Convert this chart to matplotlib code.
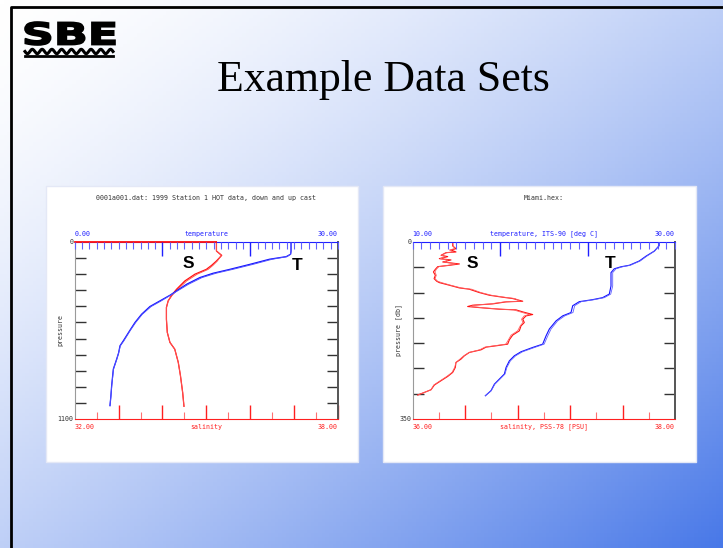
import numpy as np
import matplotlib
matplotlib.use("Agg")
import matplotlib.pyplot as plt
from matplotlib.patches import Rectangle, PathPatch
from matplotlib.textpath import TextPath
from matplotlib.font_manager import FontProperties
from matplotlib.transforms import Affine2D

# ---- data: HOT station 1 (0001a001.dat) ----
hot_p_t = [0, 56, 76, 91, 107, 139, 170, 194, 221, 263, 304, 331, 366, 401, 449,
           500, 548, 614, 645, 690, 728, 790, 893, 960, 1017]
hot_t_down = [24.65, 24.65, 24.6, 24.1, 22.2, 19.95, 17.67, 15.78, 14.26, 12.74, 11.6,
              10.85, 9.71, 8.57, 7.62, 6.87, 6.30, 5.54, 5.16, 5.0, 4.78, 4.40, 4.21, 4.12, 4.02]
hot_t_up = [24.65, 24.65, 24.6, 24.2, 22.5, 20.3, 18.0, 16.1, 14.5, 12.95, 11.7,
            10.9, 9.85, 8.7, 7.7, 6.95, 6.35, 5.6, 5.2, 5.0, 4.8, 4.42, 4.22, 4.12, 4.02]
hot_p_s = [0, 56, 83, 118, 145, 170, 200, 242, 294, 331, 366, 407, 480, 562, 624,
           666, 748, 831, 935, 1021]
hot_s_down = [35.23, 35.23, 35.35, 35.23, 35.12, 35.0, 34.74, 34.51, 34.32, 34.21, 34.13,
              34.09, 34.09, 34.11, 34.17, 34.28, 34.36, 34.41, 34.46, 34.49]
hot_s_up = [35.23, 35.23, 35.34, 35.25, 35.15, 35.04, 34.79, 34.55, 34.35, 34.22, 34.13,
            34.09, 34.09, 34.11, 34.17, 34.28, 34.36, 34.41, 34.46, 34.49]

# ---- data: Miami.hex ----
mia_p_t = [0, 7, 18, 28, 37.5, 46, 49, 53, 60.5, 87, 103, 110, 114, 118, 126, 139.5, 146,
           156, 172, 185.5, 202, 208.5, 217, 225, 235, 248, 261, 271, 281, 294, 304]
mia_t_down = [28.8, 28.8, 28.42, 27.79, 27.28, 26.52, 25.88, 25.37, 25.12, 25.12, 24.99,
              24.48, 23.72, 22.7, 22.2, 22.07, 21.44, 20.93, 20.42, 20.17, 19.91, 19.15,
              18.26, 17.75, 17.37, 17.12, 16.99, 16.61, 16.23, 15.97, 15.54]
mia_t_up = [28.8, 28.8, 28.45, 27.85, 27.35, 26.6, 26.0, 25.5, 25.25, 25.25, 25.1,
            24.62, 23.85, 22.85, 22.35, 22.22, 21.6, 21.05, 20.55, 20.3, 20.02, 19.3,
            18.38, 17.85, 17.45, 17.18, 17.04, 16.66, 16.27, 15.99, 15.54]
mia_p_s = [0, 7.9, 13.2, 15.8, 19.7, 21.1, 26.3, 28.9, 32.9, 35.5, 39.5, 43.4, 46.1, 48.7,
           53.9, 59.2, 65.8, 72.4, 77.6, 80.3, 85.5, 90.8, 93.4, 100.0, 105.3, 109.2,
           111.8, 117.1, 118.4, 122.4, 125.0, 127.6, 130.3, 132.9, 134.2, 138.2, 143.4,
           146.1, 152.6, 159.2, 165.8, 175.7, 184.2, 193.4, 202.0, 205.3, 207.9, 213.2,
           218.4, 225.0, 231.6, 238.2, 248.0, 257.9, 265.8, 274.3, 282.9, 292.1, 297.4, 302.6]
mia_s_down = [36.305, 36.305, 36.330, 36.292, 36.330, 36.254, 36.216, 36.267, 36.203,
              36.292, 36.229, 36.356, 36.280, 36.191, 36.173, 36.158, 36.173, 36.163,
              36.183, 36.203, 36.280, 36.356, 36.432, 36.508, 36.585, 36.686, 36.762,
              36.839, 36.712, 36.610, 36.457, 36.419, 36.534, 36.661, 36.788, 36.839,
              36.915, 36.864, 36.839, 36.851, 36.826, 36.813, 36.762, 36.737, 36.724,
              36.635, 36.559, 36.521, 36.432, 36.394, 36.368, 36.330, 36.325, 36.305,
              36.267, 36.216, 36.165, 36.140, 36.089, 36.038]
mia_s_up = [36.305, 36.31, 36.32, 36.28, 36.31, 36.26, 36.22, 36.25, 36.21, 36.27, 36.24,
            36.33, 36.27, 36.20, 36.18, 36.17, 36.18, 36.17, 36.19, 36.22, 36.29, 36.37,
            36.45, 36.52, 36.60, 36.70, 36.78, 36.82, 36.70, 36.59, 36.47, 36.44, 36.55,
            36.68, 36.77, 36.82, 36.89, 36.85, 36.83, 36.84, 36.82, 36.80, 36.75, 36.73,
            36.71, 36.62, 36.55, 36.51, 36.43, 36.39, 36.36, 36.33, 36.32, 36.30, 36.26,
            36.21, 36.16, 36.14, 36.09, 36.04]

W, H = 723, 548
fig = plt.figure(figsize=(W / 100, H / 100), dpi=100)

# background slide with gradient
bg = fig.add_axes([0, 0, 1, 1], zorder=-5)
bg.set_xlim(0, W)
bg.set_ylim(H, 0)
bg.axis("off")
xx, yy = np.meshgrid(np.linspace(0, 1, 200), np.linspace(0, 1, 150))
tt = ((xx + yy) / 2) ** 1.5
c0 = np.array([1.0, 1.0, 1.0])
c1 = np.array([72, 120, 232]) / 255
img = c0 + (c1 - c0) * tt[..., None]
bg.imshow(img, extent=[0, W, H, 0], aspect="auto", zorder=0)
bg.plot([10.5, 10.5, W], [H, 6.5, 6.5], color="black", lw=2, zorder=2)

# SBE logo
tp = TextPath((0, 0), "SBE", size=10, prop=FontProperties(family="DejaVu Sans", weight="bold"))
ext = tp.get_extents()
sx = 90 / ext.width
sy = 23 / ext.height
tr = Affine2D().translate(-ext.x0, -ext.y0).scale(sx, -sy).translate(25, 45)
bg.add_patch(PathPatch(tr.transform_path(tp), facecolor="black", edgecolor="black",
                       lw=1.2, zorder=3))
wx = np.linspace(25, 113, 200)
bg.plot(wx, 51.5 + 2.2 * np.sin((wx - 25) / 88 * 9 * 2 * np.pi), color="black", lw=2.2, zorder=3)
bg.plot([25, 113], [55.5, 55.5], color="black", lw=2, zorder=3)

bg.text(383, 80, "Example Data Sets", family="Liberation Serif", fontsize=31.5,
        ha="center", va="center", color="black", zorder=3)

# white panels
for x0, x1 in [(46, 358), (383, 696)]:
    bg.add_patch(Rectangle((x0, 186), x1 - x0, 276, facecolor="white",
                           edgecolor="#e4e8f6", lw=1, zorder=2))

mono = "DejaVu Sans Mono"
fs = 4.8


def make_plot(px0, px1, s_lim, t_lim, p_max, t_ticks, t_major, s_ticks, s_major, p_step,
              title, t_label, s_label, p_label):
    py0, py1 = 242, 419
    ax = fig.add_axes([px0 / W, 1 - py1 / H, (px1 - px0) / W, (py1 - py0) / H])
    ax.set_facecolor("none")
    ax.set_xlim(*s_lim)
    ax.set_ylim(p_max, 0)
    axt = ax.twiny()
    axt.set_xlim(*t_lim)
    axt.set_facecolor("none")

    ax.set_xticks(s_major)
    ax.set_xticks(s_ticks, minor=True)
    ax.set_yticks(np.arange(p_step, p_max, p_step))
    ax.tick_params(axis="x", which="major", direction="in", length=10, width=1,
                   color="#ff2020", bottom=True, top=False, labelbottom=False)
    ax.tick_params(axis="x", which="minor", direction="in", length=5, width=0.8,
                   color="#ff7070", bottom=True, top=False)
    ax.tick_params(axis="y", direction="in", length=8, width=1, color="#333333",
                   left=True, right=True, labelleft=False)
    axt.set_xticks(t_major)
    axt.set_xticks(t_ticks, minor=True)
    axt.tick_params(axis="x", which="major", direction="in", length=10, width=1,
                    color="#2020ff", top=True, labeltop=False)
    axt.tick_params(axis="x", which="minor", direction="in", length=5, width=0.8,
                    color="#6060ff", top=True)

    for sp in ["left", "right", "top", "bottom"]:
        axt.spines[sp].set_visible(False)
    ax.spines["top"].set_color("#2020ff")
    ax.spines["bottom"].set_color("#ff2020")
    ax.spines["left"].set_color("#9a9a9a")
    ax.spines["right"].set_color("#555555")
    ax.spines["right"].set_linewidth(1.4)

    cx = (px0 + px1) / 2
    bg.text(cx, 198, title, family=mono, fontsize=fs, ha="center", va="center", color="#333333")
    bg.text(px0, 234, f"{t_lim[0]:.2f}", family=mono, fontsize=fs, ha="left", va="center", color="#2020ff")
    bg.text(cx, 234, t_label, family=mono, fontsize=fs, ha="center", va="center", color="#2020ff")
    bg.text(px1, 234, f"{t_lim[1]:.2f}", family=mono, fontsize=fs, ha="right", va="center", color="#2020ff")
    bg.text(px0, 427, f"{s_lim[0]:.2f}", family=mono, fontsize=fs, ha="left", va="center", color="#ff2020")
    bg.text(cx, 427, s_label, family=mono, fontsize=fs, ha="center", va="center", color="#ff2020")
    bg.text(px1, 427, f"{s_lim[1]:.2f}", family=mono, fontsize=fs, ha="right", va="center", color="#ff2020")
    bg.text(px0 - 1.5, py0, "0", family=mono, fontsize=fs, ha="right", va="center", color="#333333")
    bg.text(px0 - 1.5, py1, f"{p_max}", family=mono, fontsize=fs, ha="right", va="center", color="#333333")
    bg.text(px0 - 14, (py0 + py1) / 2, p_label, family=mono, fontsize=fs, ha="center",
            va="center", rotation=90, color="#333333")
    return ax, axt


ax1, ax1t = make_plot(74.7, 338, (32, 38), (0, 30), 1100,
                      np.arange(0, 30.01, 10 / 12), [10, 20],
                      np.arange(32.5, 38, 1.0), np.arange(33, 38.01, 1.0), 100,
                      "0001a001.dat: 1999 Station 1 HOT data, down and up cast",
                      "temperature", "salinity", "pressure")
ax1.plot(hot_s_down, hot_p_s, color="#ff1010", lw=0.9, clip_on=False)
ax1.plot(hot_s_up, hot_p_s, color="#ff5050", lw=0.7, clip_on=False)
ax1.plot([32, hot_s_down[0]], [0, 0], color="#ff1010", lw=1.3, clip_on=False, zorder=4)
ax1t.plot(hot_t_down, hot_p_t, color="#1010ff", lw=0.9)
ax1t.plot(hot_t_up, hot_p_t, color="#5050ff", lw=0.7)
bg.text(188, 264, "S", family="Liberation Sans", weight="bold", fontsize=12.5,
        ha="center", va="center", color="black")
bg.text(297, 265, "T", family="Liberation Sans", weight="bold", fontsize=12.5,
        ha="center", va="center", color="black")

ax2, ax2t = make_plot(412.7, 675, (36, 38), (10, 30), 350,
                      np.linspace(10, 30, 31), [10 + 20 / 3, 10 + 40 / 3],
                      [36.2, 36.6, 37.0, 37.4, 37.8], [36.4, 36.8, 37.2, 37.6], 50,
                      "Miami.hex:", "temperature, ITS-90 [deg C]",
                      "salinity, PSS-78 [PSU]", "pressure [db]")
ax2.plot(mia_s_down, mia_p_s, color="#ff1010", lw=0.8)
ax2.plot(mia_s_up, mia_p_s, color="#ff6060", lw=0.6)
ax2t.plot(mia_t_down, mia_p_t, color="#1010ff", lw=0.8)
ax2t.plot(mia_t_up, mia_p_t, color="#6060ff", lw=0.6)
bg.text(472, 264, "S", family="Liberation Sans", weight="bold", fontsize=12.5,
        ha="center", va="center", color="black")
bg.text(610, 263, "T", family="Liberation Sans", weight="bold", fontsize=12.5,
        ha="center", va="center", color="black")

fig.savefig("out.png", dpi=100)
